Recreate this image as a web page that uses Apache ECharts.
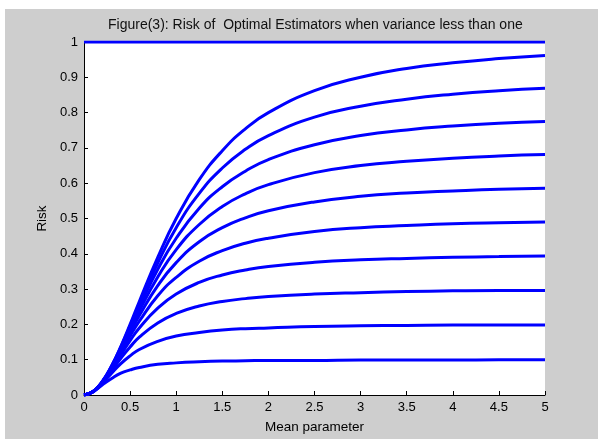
<!DOCTYPE html>
<html>
<head>
<meta charset="utf-8">
<script src="https://cdn.jsdelivr.net/npm/echarts@6/dist/echarts.min.js"></script>
<style>
  html, body { margin: 0; padding: 0; background: #fff; }
  #chart { position: absolute; left: 5px; top: 9px; width: 593px; height: 430px; background: #cecece; }
</style>
</head>
<body>
<div id="chart"></div>
<script>
// mean parameter values where the curves were read
const meanValues = [0, 0.1, 0.2, 0.3, 0.4, 0.5, 0.6, 0.8, 1, 1.25, 1.5, 1.75, 2, 2.5, 3, 3.5, 4, 4.5, 5];

// risk curves, lowest to highest
const risk01 = [0, 0.009, 0.029, 0.047, 0.062, 0.071, 0.078, 0.087, 0.091, 0.094, 0.096, 0.097, 0.098, 0.098, 0.099, 0.099, 0.099, 0.1, 0.1];
const risk02 = [0, 0.010, 0.033, 0.062, 0.089, 0.111, 0.129, 0.152, 0.167, 0.177, 0.184, 0.188, 0.190, 0.194, 0.196, 0.197, 0.198, 0.198, 0.198];
const risk03 = [0, 0.010, 0.035, 0.069, 0.104, 0.136, 0.164, 0.204, 0.231, 0.252, 0.265, 0.273, 0.279, 0.286, 0.290, 0.293, 0.295, 0.296, 0.296];
const risk04 = [0, 0.010, 0.036, 0.074, 0.114, 0.154, 0.190, 0.246, 0.286, 0.319, 0.340, 0.354, 0.364, 0.376, 0.383, 0.387, 0.390, 0.392, 0.394];
const risk05 = [0, 0.010, 0.037, 0.076, 0.121, 0.167, 0.209, 0.281, 0.333, 0.379, 0.409, 0.430, 0.444, 0.463, 0.474, 0.480, 0.485, 0.488, 0.490];
const risk06 = [0, 0.010, 0.038, 0.078, 0.126, 0.177, 0.225, 0.310, 0.375, 0.434, 0.474, 0.502, 0.522, 0.547, 0.563, 0.572, 0.578, 0.583, 0.586];
const risk07 = [0, 0.010, 0.038, 0.080, 0.130, 0.184, 0.238, 0.334, 0.412, 0.483, 0.534, 0.570, 0.596, 0.630, 0.650, 0.662, 0.671, 0.677, 0.681];
const risk08 = [0, 0.010, 0.038, 0.081, 0.133, 0.190, 0.248, 0.356, 0.444, 0.529, 0.590, 0.634, 0.667, 0.709, 0.735, 0.751, 0.762, 0.770, 0.775];
const risk09 = [0, 0.010, 0.038, 0.082, 0.136, 0.196, 0.257, 0.374, 0.474, 0.571, 0.643, 0.696, 0.735, 0.787, 0.818, 0.838, 0.852, 0.862, 0.869];
const risk10 = [0, 0.010, 0.039, 0.083, 0.138, 0.200, 0.265, 0.390, 0.500, 0.610, 0.692, 0.754, 0.800, 0.862, 0.900, 0.925, 0.941, 0.953, 0.962];
const riskCurves = [risk01, risk02, risk03, risk04, risk05, risk06, risk07, risk08, risk09, risk10];

// flat line along the top of the axes
const topLineX = [0, 5];
const topLineY = [1, 1];

const titleText = "Figure(3): Risk of  Optimal Estimators when variance less than one";
const fontFamily = "'Liberation Sans', Arial, sans-serif";

const chart = echarts.init(document.getElementById("chart"));

const axisCommon = {
  axisLine: { show: true, lineStyle: { color: "#000", width: 1 } },
  axisTick: { show: true, inside: true, length: 4, lineStyle: { color: "#000" } },
  splitLine: { show: false },
  axisLabel: { color: "#000", fontSize: 13, fontFamily, margin: 6, formatter: (v) => String(+v.toFixed(1)) },
  nameTextStyle: { color: "#000", fontSize: 13.5, fontFamily },
};

const series = riskCurves.map((curve) => ({
  type: "line",
  data: meanValues.map((m, i) => [m, curve[i]]),
  smooth: true,
  showSymbol: false,
  lineStyle: { color: "#0000ff", width: 3 },
}));
series.push({
  type: "line",
  data: topLineX.map((m, i) => [m, topLineY[i]]),
  showSymbol: false,
  lineStyle: { color: "#0000ff", width: 3 },
});

chart.setOption({
  animation: false,
  title: {
    text: titleText,
    left: 103,
    top: 9,
    padding: 0,
    textStyle: { color: "#111", fontSize: 14, fontWeight: "normal", fontFamily },
  },
  grid: { left: 79, top: 33, width: 461, height: 353, show: true, backgroundColor: "#fff", borderWidth: 0 },
  xAxis: {
    ...axisCommon,
    type: "value",
    min: 0,
    max: 5,
    interval: 0.5,
    name: "Mean parameter",
    nameLocation: "middle",
    nameGap: 25,
  },
  yAxis: {
    ...axisCommon,
    type: "value",
    min: 0,
    max: 1,
    interval: 0.1,
    name: "Risk",
    nameLocation: "middle",
    nameGap: 33,
  },
  series,
});
</script>
</body>
</html>
